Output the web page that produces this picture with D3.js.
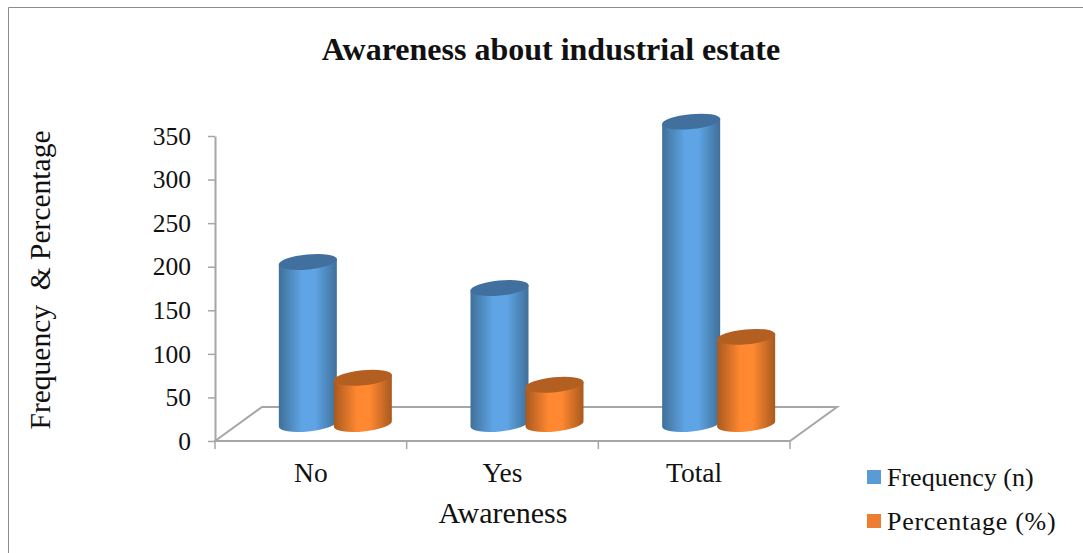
<!DOCTYPE html>
<html>
<head>
<meta charset="utf-8">
<script src="https://cdn.jsdelivr.net/npm/d3@7"></script>
<style>
html,body{margin:0;padding:0;background:#fff;overflow:hidden}
svg{display:block}
text{font-family:"Liberation Serif","Times New Roman",serif;fill:#111}
</style>
</head>
<body>
<svg id="chart" width="1083" height="553"></svg>
<script>
// Survey figures for each awareness group
const categories = ["No", "Yes", "Total"];
const frequency = [186, 156, 347];
const percentage = [53, 45, 100];
const seriesNames = ["Frequency (n)", "Percentage (%)"];
const yTicks = [0, 50, 100, 150, 200, 250, 300, 350];

const svg = d3.select("#chart");
const defs = svg.append("defs");

// Plot frame: front edge of the floor and its perspective offset
const left = 215, right = 790, y0 = 441, y350 = 136;
const depthX = 47, depthY = 34;

const y = d3.scaleLinear().domain([0, 350]).range([y0, y350]);
const x = d3.scaleBand().domain(categories).range([left, right]);
const inner = d3.scaleBand().domain(seriesNames).range([0, 110]);

const gray = "#a6a6a6";

// Outer chart border
svg.append("path").attr("d", "M1083,7.5H8.5V553")
  .attr("fill", "none").attr("stroke", "#8c8c8c").attr("stroke-width", 1);

// Cylinder shading: dark edges, bright middle
const palettes = [
  {id: "shadeBlue", edge: "#3f7099", mid: "#5fa5e6", top: "#41709f", swatch: "#5b9bd5"},
  {id: "shadeOrange", edge: "#a9591f", mid: "#ff8830", top: "#b45f22", swatch: "#ed7d31"}
];
palettes.forEach(p => {
  const g = defs.append("linearGradient").attr("id", p.id);
  [[0, p.edge], [0.4, p.mid], [0.62, p.mid], [1, p.edge]].forEach(([o, c]) =>
    g.append("stop").attr("offset", o).attr("stop-color", c));
});

// Floor of the plot
svg.append("path")
  .attr("d", `M${left},${y0}L${left + depthX},${y0 - depthY}H${right + depthX}L${right},${y0}Z`)
  .attr("fill", "none").attr("stroke", gray).attr("stroke-width", 2);

// Value axis
const yAxis = d3.axisLeft(y).tickValues(yTicks).tickSize(7).tickPadding(17).tickSizeOuter(0);
const yG = svg.append("g").attr("transform", `translate(${left},0)`).call(yAxis);
yG.select(".domain").attr("stroke", gray).attr("stroke-width", 2);
yG.selectAll(".tick line").attr("stroke", gray).attr("stroke-width", 1.5);
yG.selectAll(".tick text").attr("font-size", 25.5)
  .attr("font-family", '"Liberation Serif",serif').attr("fill", "#111");

// Category ticks sit on the band boundaries, labels in the band centres
const edges = categories.map(c => x(c)).concat(right);
svg.append("g").selectAll("line").data(edges).join("line")
  .attr("x1", d => d).attr("x2", d => d)
  .attr("y1", y0).attr("y2", y0 + 8)
  .attr("stroke", gray).attr("stroke-width", 1.5);
svg.append("g").selectAll("text").data(categories).join("text")
  .attr("x", c => x(c) + x.bandwidth() / 2)
  .attr("y", 482).attr("text-anchor", "middle").attr("font-size", 27.5)
  .text(c => c);

// Cylinders: the base ring rests mid-way across the floor
const barW = 58, ry = 7.5, tilt = -5.5, baseLift = 17, pairOffset = -3;
const drop = Math.tan(-tilt * Math.PI / 180) * barW / 2;

function drawBars(values, seriesIdx) {
  const p = palettes[seriesIdx];
  const g = svg.append("g");
  const name = seriesNames[seriesIdx];
  const cx = i => x(categories[i]) + x.bandwidth() / 2 + pairOffset + inner(name);
  const topY = d => y(d) - baseLift;
  const baseY = y(0) - baseLift;

  g.selectAll("path").data(values).join("path")
    .attr("d", (d, i) => {
      const c = cx(i), r = barW / 2, t = topY(d);
      return `M${c - r},${t + drop}L${c + r},${t - drop}L${c + r},${baseY - drop}` +
        `A${r},${ry} ${tilt} 0 1 ${c - r},${baseY + drop}Z`;
    })
    .attr("fill", `url(#${p.id})`);

  g.selectAll("ellipse").data(values).join("ellipse")
    .attr("cx", (d, i) => cx(i)).attr("cy", d => topY(d))
    .attr("rx", barW / 2 + 0.3).attr("ry", ry)
    .attr("transform", (d, i) => `rotate(${tilt} ${cx(i)} ${topY(d)})`)
    .attr("fill", p.top);
}
drawBars(frequency, 0);
drawBars(percentage, 1);

// Titles
svg.append("text").attr("x", 551).attr("y", 60).attr("text-anchor", "middle")
  .attr("font-size", 32).attr("font-weight", "bold")
  .text("Awareness about industrial estate");
svg.append("text").attr("x", 503).attr("y", 523).attr("text-anchor", "middle")
  .attr("font-size", 30).text("Awareness");
svg.append("text").attr("transform", "translate(50,280) rotate(-90)")
  .attr("text-anchor", "middle").attr("font-size", 29.5)
  .style("white-space", "pre")
  .text("Frequency  & Percentage");

// Legend
const legendY = [470, 514];
const legendTracking = [0, 0.7];
const lg = svg.append("g").selectAll("g").data(seriesNames).join("g")
  .attr("transform", (d, i) => `translate(867,${legendY[i]})`);
lg.append("rect").attr("width", 14).attr("height", 14)
  .attr("fill", (d, i) => palettes[i].swatch);
lg.append("text").attr("x", 20).attr("y", 15.5).attr("font-size", 26)
  .attr("letter-spacing", (d, i) => legendTracking[i]).text(d => d);
</script>
</body>
</html>
